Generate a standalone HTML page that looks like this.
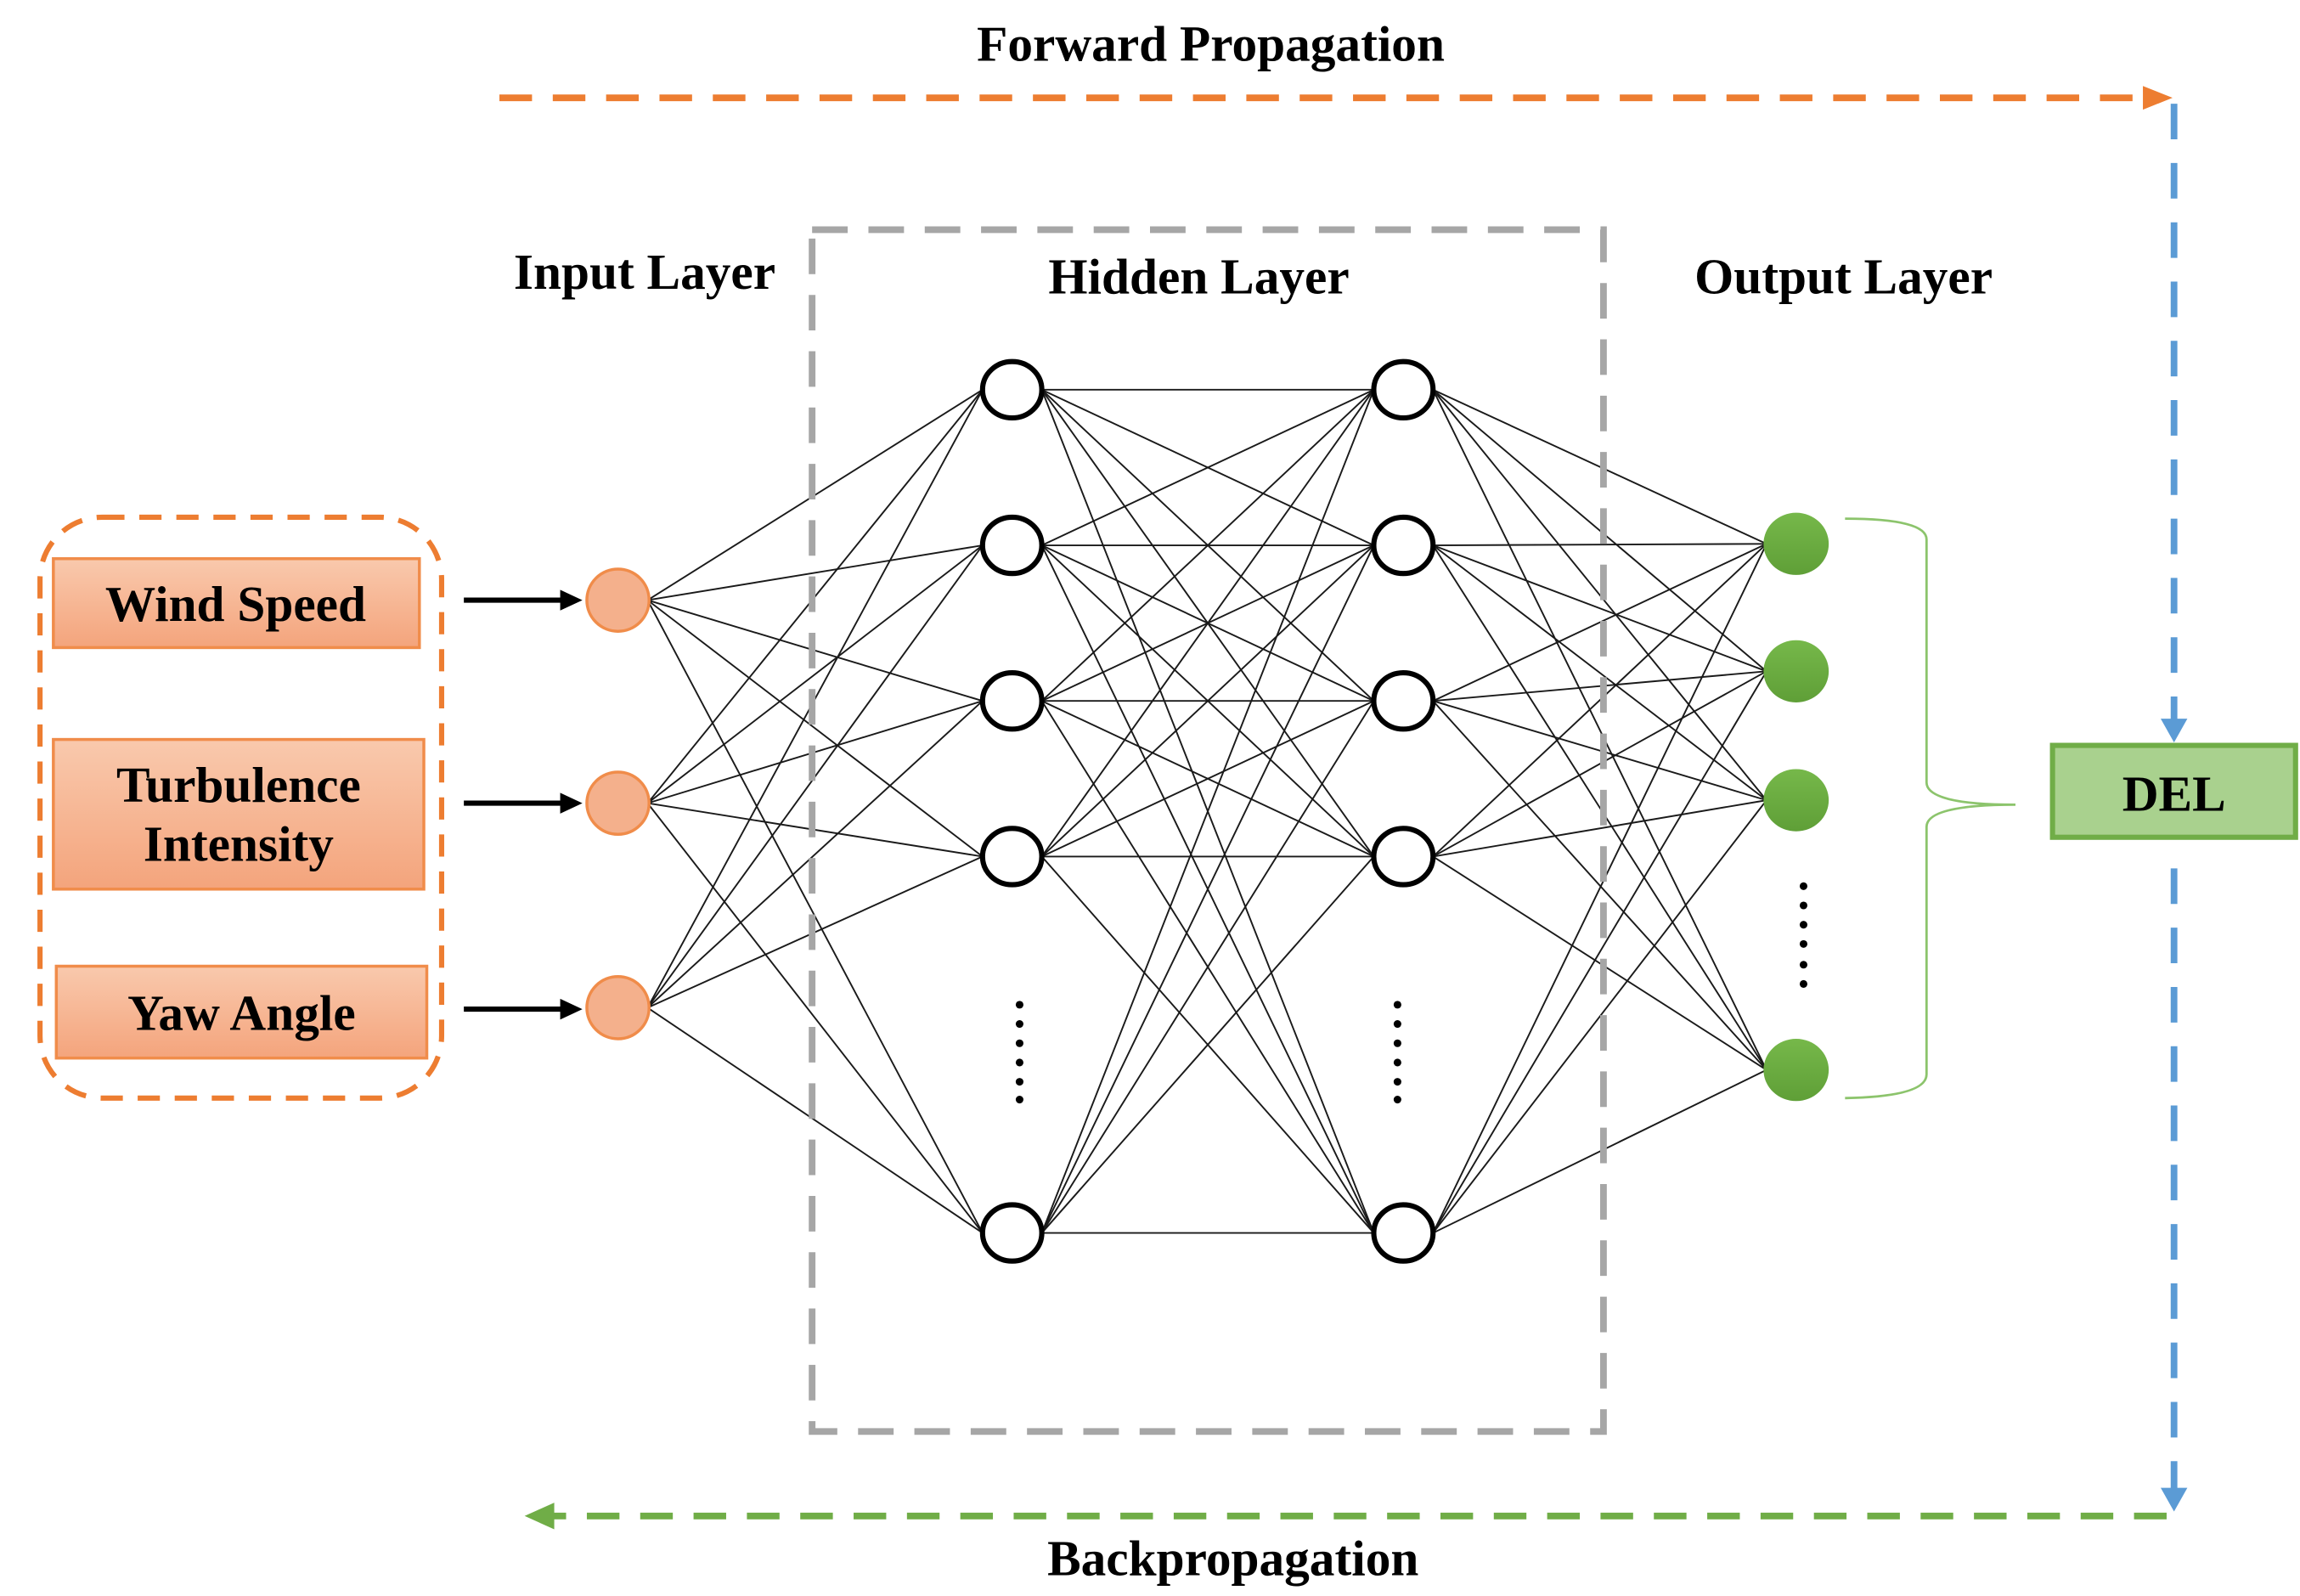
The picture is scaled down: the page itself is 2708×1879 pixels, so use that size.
<!DOCTYPE html>
<html><head><meta charset="utf-8"><style>
html,body{margin:0;padding:0;background:#fff;}
svg{display:block;}
text{font-family:"Liberation Serif",serif;font-weight:bold;fill:#000;}
</style></head><body>
<svg id="s" width="2708" height="1879" viewBox="0 0 1552 1077" preserveAspectRatio="none" xmlns="http://www.w3.org/2000/svg">
<defs>
<linearGradient id="og" x1="0" y1="0" x2="0" y2="1"><stop offset="0" stop-color="#f9c9ad"/><stop offset="1" stop-color="#f4a47c"/></linearGradient>
<linearGradient id="gg" x1="0" y1="0" x2="0" y2="1"><stop offset="0" stop-color="#76b84a"/><stop offset="1" stop-color="#5f9f37"/></linearGradient>
</defs>
<rect width="1552" height="1077" fill="#fff"/>
<g id="lines" stroke="#1a1a1a" stroke-width="1.1"></g>
<rect x="548" y="155" width="534" height="811" fill="none" stroke="#a6a6a6" stroke-width="4.5" stroke-dasharray="24 14"/>
<text x="817" y="41" font-size="34" text-anchor="middle">Forward Propagation</text>
<text x="435" y="195" font-size="34" text-anchor="middle">Input Layer</text>
<text x="809" y="198" font-size="34" text-anchor="middle">Hidden Layer</text>
<text x="1244" y="198" font-size="34" text-anchor="middle">Output Layer</text>
<text x="832" y="1063" font-size="34" text-anchor="middle">Backpropagation</text>
<line x1="337" y1="66" x2="1452" y2="66" stroke="#ed7d31" stroke-width="4.5" stroke-dasharray="22 14"/>
<polygon points="1446,58 1466,66 1446,74" fill="#ed7d31"/>
<line x1="1467" y1="70" x2="1467" y2="488" stroke="#5b9bd5" stroke-width="4.5" stroke-dasharray="24 16"/>
<polygon points="1458,485 1476,485 1467,501" fill="#5b9bd5"/>
<line x1="1467" y1="586" x2="1467" y2="1006" stroke="#5b9bd5" stroke-width="4.5" stroke-dasharray="24 16"/>
<polygon points="1458,1004 1476,1004 1467,1020" fill="#5b9bd5"/>
<line x1="1462" y1="1023" x2="368" y2="1023" stroke="#70ad47" stroke-width="4.5" stroke-dasharray="22 14"/>
<polygon points="374,1014 354,1023 374,1032" fill="#70ad47"/>
<rect x="1385" y="503" width="164" height="62" fill="#a9d18e" stroke="#70ad47" stroke-width="3.5"/>
<text x="1467" y="547" font-size="34" text-anchor="middle">DEL</text>
<path d="M1245,350 Q1300,350 1300,364 L1300,528 Q1300,543 1360,543 Q1300,543 1300,558 L1300,725 Q1300,740 1245,741" fill="none" stroke="#8cc46c" stroke-width="1.6"/>
<rect x="27" y="349" width="271" height="392" rx="42" fill="none" stroke="#ed7d31" stroke-width="3.5" stroke-dasharray="15 10"/>
<rect x="36" y="377" width="247" height="60" fill="url(#og)" stroke="#f08c4a" stroke-width="2"/>
<text x="159" y="419" font-size="34" text-anchor="middle">Wind Speed</text>
<rect x="36" y="499" width="250" height="101" fill="url(#og)" stroke="#f08c4a" stroke-width="2"/>
<text x="161" y="541" font-size="34" text-anchor="middle">Turbulence</text>
<text x="161" y="581" font-size="34" text-anchor="middle">Intensity</text>
<rect x="38" y="652" width="250" height="62" fill="url(#og)" stroke="#f08c4a" stroke-width="2"/>
<text x="163" y="695" font-size="34" text-anchor="middle">Yaw Angle</text>
<g stroke="#000" stroke-width="3.5">
<line x1="313" y1="405" x2="380" y2="405"/><line x1="313" y1="542" x2="380" y2="542"/><line x1="313" y1="681" x2="380" y2="681"/>
</g>
<g fill="#000">
<polygon points="378,398 393,405 378,412"/><polygon points="378,535 393,542 378,549"/><polygon points="378,674 393,681 378,688"/>
</g>
<g id="nodes"></g>
<g fill="#000">
<circle cx="688" cy="678" r="2.6"/><circle cx="688" cy="691" r="2.6"/><circle cx="688" cy="704" r="2.6"/><circle cx="688" cy="717" r="2.6"/><circle cx="688" cy="730" r="2.6"/><circle cx="688" cy="742" r="2.6"/>
<circle cx="943" cy="678" r="2.6"/><circle cx="943" cy="691" r="2.6"/><circle cx="943" cy="704" r="2.6"/><circle cx="943" cy="717" r="2.6"/><circle cx="943" cy="730" r="2.6"/><circle cx="943" cy="742" r="2.6"/>
<circle cx="1217" cy="598" r="2.6"/><circle cx="1217" cy="611" r="2.6"/><circle cx="1217" cy="624" r="2.6"/><circle cx="1217" cy="637" r="2.6"/><circle cx="1217" cy="651" r="2.6"/><circle cx="1217" cy="664" r="2.6"/>
</g>
</svg>
<script>
var NS="http://www.w3.org/2000/svg";
var inp=[405,542,680], hid=[263,368,473,578,832], out=[367,453,540,722];
var L=document.getElementById("lines"), N=document.getElementById("nodes");
function ln(a,b,c,d){var e=document.createElementNS(NS,"line");e.setAttribute("x1",a);e.setAttribute("y1",b);e.setAttribute("x2",c);e.setAttribute("y2",d);L.appendChild(e);}
inp.forEach(function(a){hid.forEach(function(b){ln(437,a,663,b);});});
hid.forEach(function(a){hid.forEach(function(b){ln(703,a,927,b);});});
hid.forEach(function(a){out.forEach(function(b){ln(967,a,1192,b);});});
function c(x,y,rx,ry,f,s,w){var e=document.createElementNS(NS,"ellipse");e.setAttribute("cx",x);e.setAttribute("cy",y);e.setAttribute("rx",rx);e.setAttribute("ry",ry);e.setAttribute("fill",f);e.setAttribute("stroke",s);e.setAttribute("stroke-width",w);N.appendChild(e);}
inp.forEach(function(y){c(417,y,21,21,"#f4b08c","#f08c4a",2);});
hid.forEach(function(y){c(683,y,20,19,"#fff","#000",3.5);c(947,y,20,19,"#fff","#000",3.5);});
out.forEach(function(y){c(1212,y,22,21,"url(#gg)","none",0);});
</script>
</body></html>
